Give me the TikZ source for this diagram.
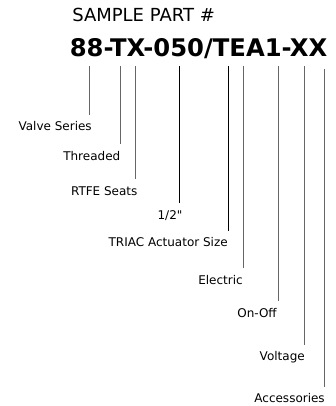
\documentclass[tikz,border=0pt]{standalone}
\usepackage{fontspec}
\newfontfamily\dejavu{DejaVu Sans}
\usepackage{tikz}
\usetikzlibrary{positioning,calc}

\begin{document}
\begin{tikzpicture}[
      x=0.75pt, y=-0.75pt,
      title/.style={anchor=base west, inner sep=0pt, font=\dejavu\fontsize{13.5}{16}\selectfont},
      partno/.style={anchor=base west, inner sep=0pt, font=\dejavu\fontsize{18.2}{21}\selectfont\bfseries},
      lbl/.style={anchor=base east, inner sep=0pt, font=\dejavu\fontsize{9}{11}\selectfont},
      lead/.style={draw=black!60, line width=0.65pt, shorten >=5pt},
      leadk/.style={lead, draw=black}
    ]
      \useasboundingbox (0,0) rectangle (335,406);
      \node[title] (ttl) at (72,21.7) {SAMPLE PART \#};
      \node[partno] (pn) at (69.5,57) {88-TX-050/TEA1-XX};

      % tops of the leader lines
      \coordinate (t1) at (89.3,66);
      \coordinate (t2) at (120,66);
      \coordinate (t3) at (135.7,66);
      \coordinate (t4) at (179.3,66);
      \coordinate (t5) at (228.3,66);
      \coordinate (t6) at (243.7,66);
      \coordinate (t7) at (278,66);
      \coordinate (t8) at (304.3,66);
      \coordinate (t9) at (324,69);

      % labels
      \node[lbl] (vs) at (92,130.7) {Valve Series};
      \node[lbl] (th) at (120.5,160) {Threaded};
      \node[lbl] (rs) at (137.7,195) {RTFE Seats};
      \node[lbl] (sz) at (182.7,219.3) {1/2"};
      \node[lbl] (ac) at (228,246.7) {TRIAC Actuator Size};
      \node[lbl] (el) at (243,284) {Electric};
      \node[lbl] (oo) at (277,317.3) {On-Off};
      \node[lbl] (vo) at (305,360.7) {Voltage};
      \node[lbl] (xs) at (325,402.7) {Accessories};

      \draw[lead] (t1) -- (t1 |- vs.north);
      \draw[lead] (t2) -- (t2 |- th.north);
      \draw[lead] (t3) -- (t3 |- rs.north);
      \draw[leadk] (t4) -- (t4 |- sz.north);
      \draw[leadk] (t5) -- (t5 |- ac.north);
      \draw[lead] (t6) -- (t6 |- el.north);
      \draw[lead] (t7) -- (t7 |- oo.north);
      \draw[lead] (t8) -- (t8 |- vo.north);
      \draw[lead] (t9) -- (t9 |- xs.north);
    \end{tikzpicture}
\end{document}
